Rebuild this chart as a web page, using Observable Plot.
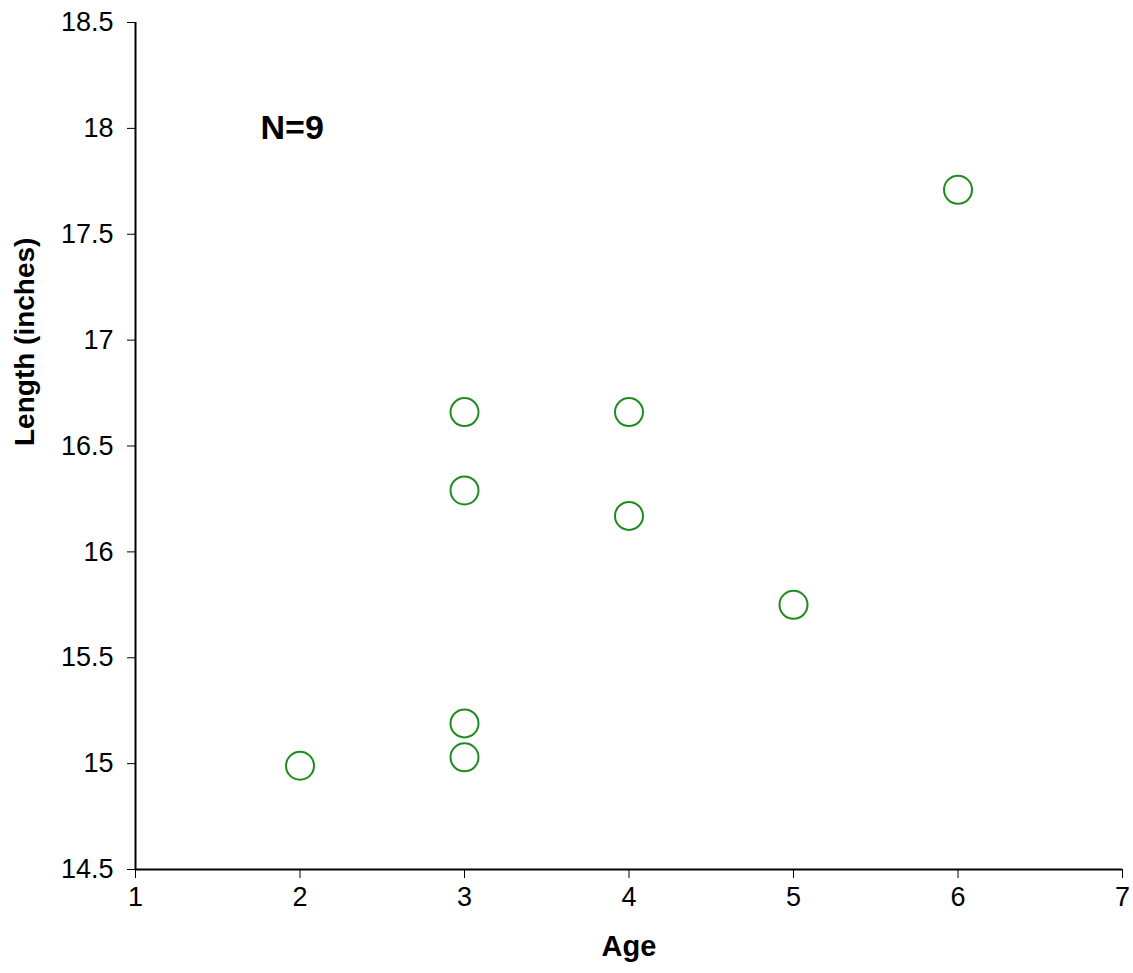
<!DOCTYPE html>
<html><head><meta charset="utf-8">
<script src="https://cdn.jsdelivr.net/npm/d3@7"></script>
<script src="https://cdn.jsdelivr.net/npm/@observablehq/plot@0.6"></script>
<style>body{margin:0;background:#fff}</style>
</head><body><div id="c"></div>
<script>
const ages = [2, 3, 3, 3, 3, 4, 4, 5, 6];
const lengths = [14.99, 15.03, 15.19, 16.29, 16.66, 16.66, 16.17, 15.75, 17.71];
const xTicks = [1,2,3,4,5,6,7];
const yTicks = [14.5,15,15.5,16,16.5,17,17.5,18,18.5];
const data = ages.map((a,i)=>({age:a,len:lengths[i]}));
const chart = Plot.plot({
  width:1133, height:973,
  marginLeft:135, marginRight:11, marginTop:22, marginBottom:104,
  style:{fontFamily:"Liberation Sans, Arial, sans-serif", fontSize:"27px", color:"#000", background:"#fff"},
  x:{domain:[1,7], label:null},
  y:{domain:[14.5,18.5], label:null},
  marks:[
    Plot.ruleX([1],{stroke:"#000",strokeWidth:2}),
    Plot.ruleY([14.5],{stroke:"#000",strokeWidth:2}),
    Plot.axisX({ticks:xTicks,tickSize:9,tickFormat:d=>String(d),fontSize:27,tickPadding:8,label:null}),
    Plot.axisY({ticks:yTicks,tickSize:8,tickFormat:d=>String(d),fontSize:27,tickPadding:14,label:null}),
    Plot.dot(data,{x:"age",y:"len",r:14,stroke:"#1e8c1e",strokeWidth:2,fill:"none"}),
    Plot.text(["N=9"],{x:1.76,y:18.0,text:d=>d,textAnchor:"start",fontSize:34,fontWeight:"bold"}),
    Plot.text(["Age"],{frameAnchor:"bottom",dy:86,text:d=>d,fontSize:29,fontWeight:"bold"}),
    Plot.text(["Length (inches)"],{frameAnchor:"left",dx:-110,rotate:-90,text:d=>d,fontSize:28,fontWeight:"bold"})
  ]
});
document.getElementById("c").appendChild(chart);
</script></body></html>
